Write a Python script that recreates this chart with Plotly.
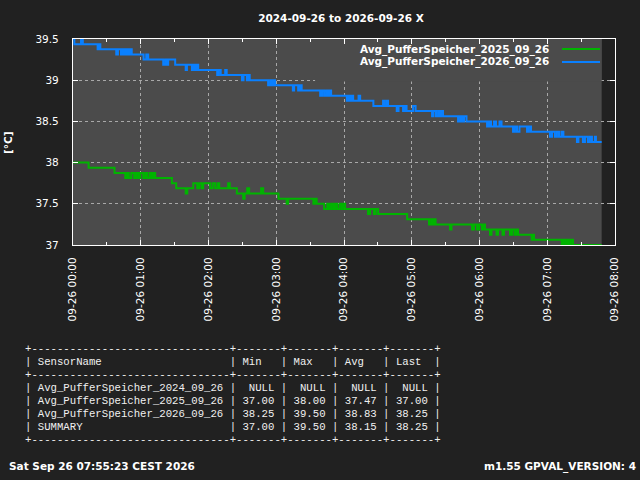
import plotly.graph_objects as go
import pandas as pd

# 数据：分钟（从 00:00 起）和温度
day = "2026-09-26"
title_text = "2024-09-26 to 2026-09-26 X"

min_2026 = [0.0, 1.2, 7.1, 8.7, 21.8, 22.8, 24.2, 38.3, 39.8, 42.5, 44.1, 45.0, 46.3, 47.8,
            49.2, 49.8, 51.2, 52.0, 62.5, 64.9, 66.6, 79.9, 81.7, 83.0, 84.3, 90.5, 99.8,
            100.9, 105.3, 106.9, 108.2, 109.7, 110.9, 127.7, 129.0, 130.8, 134.8, 136.1,
            149.6, 151.0, 154.0, 155.1, 156.5, 172.8, 174.6, 175.9, 177.3, 179.0, 194.7,
            195.8, 199.4, 201.2, 202.5, 218.9, 220.6, 222.4, 224.2, 225.9, 227.3, 228.6,
            242.5, 244.1, 245.4, 246.7, 248.1, 252.9, 254.3, 266.0, 274.6, 275.9, 277.7,
            279.0, 286.7, 288.3, 292.3, 294.0, 295.4, 301.2, 303.4, 318.0, 319.3, 321.5,
            323.3, 324.6, 325.9, 327.7, 341.0, 342.8, 344.5, 346.3, 348.5, 366.7, 368.4,
            370.2, 372.9, 374.6, 377.7, 379.5, 389.7, 391.4, 393.2, 395.4, 402.1, 403.8,
            405.6, 422.4, 424.2, 426.8, 428.6, 430.4, 432.6, 434.3, 446.3, 447.6, 451.6,
            453.4, 456.0, 457.8, 459.6, 462.2, 463.1, 468.2]
temp_2026 = [39.5, 39.4375, 39.5, 39.4375, 39.375, 39.4375, 39.375, 39.3125, 39.375, 39.3125,
             39.375, 39.3125, 39.375, 39.3125, 39.375, 39.3125, 39.375, 39.3125, 39.25,
             39.3125, 39.25, 39.1875, 39.25, 39.1875, 39.25, 39.1875, 39.125, 39.1875, 39.125,
             39.1875, 39.125, 39.1875, 39.125, 39.0625, 39.125, 39.0625, 39.125, 39.0625,
             39.0, 39.0625, 39.0, 39.0625, 39.0, 38.9375, 39.0, 38.9375, 39.0, 38.9375, 38.875,
             38.9375, 38.875, 38.9375, 38.875, 38.8125, 38.875, 38.8125, 38.875, 38.8125,
             38.875, 38.8125, 38.75, 38.8125, 38.75, 38.8125, 38.75, 38.8125, 38.75, 38.6875,
             38.75, 38.6875, 38.75, 38.6875, 38.625, 38.6875, 38.625, 38.6875, 38.625, 38.6875,
             38.625, 38.5625, 38.625, 38.5625, 38.625, 38.5625, 38.625, 38.5625, 38.5, 38.5625,
             38.5, 38.5625, 38.5, 38.4375, 38.5, 38.4375, 38.5, 38.4375, 38.5, 38.4375, 38.375,
             38.4375, 38.375, 38.4375, 38.375, 38.4375, 38.375, 38.3125, 38.375, 38.3125,
             38.375, 38.3125, 38.375, 38.3125, 38.25, 38.3125, 38.25, 38.3125, 38.25, 38.3125,
             38.25, 38.3125, 38.25, 38.25]

min_2025 = [0.0, 13.8, 36.8, 46.3, 48.1, 49.4, 51.6, 54.2, 56.0, 57.8, 59.6, 62.2, 64.0, 65.8,
            68.0, 69.7, 71.1, 72.8, 87.6, 91.4, 99.8, 101.2, 106.5, 110.0, 111.8, 114.0,
            115.3, 121.5, 123.7, 125.9, 128.1, 129.5, 137.4, 138.8, 145.1, 150.7, 152.0,
            154.3, 156.0, 166.6, 168.4, 182.0, 189.2, 190.5, 212.9, 214.4, 215.8, 222.4,
            225.1, 226.8, 228.6, 230.4, 232.1, 233.9, 236.1, 237.9, 239.2, 241.0, 261.3,
            263.1, 266.6, 268.0, 270.2, 295.9, 315.3, 317.1, 318.4, 319.8, 321.1, 333.9,
            335.2, 353.4, 355.1, 357.8, 359.6, 362.2, 363.6, 364.9, 369.3, 370.6, 375.1,
            376.4, 380.4, 381.7, 387.0, 388.8, 391.0, 392.8, 394.1, 406.2, 407.4, 408.3,
            432.8, 434.3, 436.1, 437.9, 439.2, 441.0, 442.8, 468.2]
temp_2025 = [38.0, 37.9375, 37.875, 37.8125, 37.875, 37.8125, 37.875, 37.8125, 37.875, 37.8125,
             37.875, 37.8125, 37.875, 37.8125, 37.875, 37.8125, 37.875, 37.8125, 37.75,
             37.6875, 37.625, 37.6875, 37.75, 37.6875, 37.75, 37.6875, 37.75, 37.6875, 37.75,
             37.6875, 37.75, 37.6875, 37.75, 37.6875, 37.625, 37.5625, 37.625, 37.6875,
             37.625, 37.6875, 37.625, 37.5625, 37.5, 37.5625, 37.5, 37.5625, 37.5, 37.4375,
             37.5, 37.4375, 37.5, 37.4375, 37.5, 37.4375, 37.5, 37.4375, 37.5, 37.4375, 37.375,
             37.4375, 37.375, 37.4375, 37.375, 37.3125, 37.25, 37.3125, 37.25, 37.3125, 37.25,
             37.1875, 37.25, 37.1875, 37.25, 37.1875, 37.25, 37.1875, 37.25, 37.1875, 37.125,
             37.1875, 37.125, 37.1875, 37.125, 37.1875, 37.125, 37.1875, 37.125, 37.1875,
             37.125, 37.0625, 37.125, 37.0625, 37.0, 37.0625, 37.0, 37.0625, 37.0, 37.0625,
             37.0, 37.0]

legend_names = ["Avg_PufferSpeicher_2025_09_26", "Avg_PufferSpeicher_2026_09_26"]
line_colors = ["#00b400", "#0a80ff"]

# 表格
sensor_names = ["Avg_PufferSpeicher_2024_09_26", "Avg_PufferSpeicher_2025_09_26",
                "Avg_PufferSpeicher_2026_09_26", "SUMMARY"]
col_min = ["NULL", "37.00", "38.25", "37.00"]
col_max = ["NULL", "38.00", "39.50", "39.50"]
col_avg = ["NULL", "37.47", "38.83", "38.15"]
col_last = ["NULL", "37.00", "38.25", "38.25"]
footer_left = "Sat Sep 26 07:55:23 CEST 2026"
footer_right = "m1.55 GPVAL_VERSION: 4"

BG = "#212121"
PLOT_BG = "#4b4b4b"
FONT = "DejaVu Sans"

# 绘图区域（像素）
L, R, T, B = 73, 615, 39, 245
W_PX, H_PX = R - L, B - T


def px_x(x):
    return (x - L) / W_PX


def px_y(y):
    return (B - y) / H_PX


def to_time(minutes):
    return pd.Timestamp(day) + pd.to_timedelta(minutes, unit="min")


fig = go.Figure()
for name, color, mins, temps in [(legend_names[0], line_colors[0], min_2025, temp_2025),
                                 (legend_names[1], line_colors[1], min_2026, temp_2026)]:
    fig.add_trace(go.Scatter(x=to_time(mins), y=temps, mode="lines", name=name,
                             line=dict(color=color, width=2, shape="hv"),
                             showlegend=False))

t_end = to_time([min_2026[-1]])[0]
t_start = pd.Timestamp(day)

shapes = [
    # 数据范围灰底
    dict(type="rect", xref="x", yref="paper", x0=t_start, x1=t_end, y0=0, y1=1,
         fillcolor=PLOT_BG, line_width=0, layer="below"),
    # 图例背景（遮住网格）
    dict(type="rect", xref="x", yref="y", x0=to_time([214.4])[0], x1=t_end, y0=38.985, y1=39.5,
         fillcolor=PLOT_BG, line_width=0, layer="between"),
]
annotations = []
for i, (name, color) in enumerate(zip(legend_names, line_colors)):
    yy = [49, 62][i]
    shapes.append(dict(type="line", xref="paper", yref="paper", x0=px_x(562), x1=px_x(600),
                       y0=px_y(yy), y1=px_y(yy), line=dict(color=color, width=2)))
    annotations.append(dict(xref="paper", yref="paper", x=px_x(551), y=px_y(yy),
                            xanchor="right", yanchor="middle", showarrow=False,
                            text="<b>" + name + "</b>",
                            font=dict(family=FONT, size=10.5, color="white")))

annotations.append(dict(xref="paper", yref="paper", x=px_x(8), y=px_y(143), textangle=-90,
                        xanchor="center", yanchor="middle", showarrow=False, text="<b>[°C]</b>",
                        font=dict(family=FONT, size=10.5, color="white")))

# 文本表格
border = "+" + "-" * 31 + "+" + ("-" * 7 + "+") * 4
header = "| " + "SensorName".ljust(29) + " | " + " | ".join(h.ljust(5) for h in ["Min", "Max", "Avg", "Last"]) + " |"
rows = [border, header, border]
for n, a, b, c, d in zip(sensor_names, col_min, col_max, col_avg, col_last):
    rows.append("| " + n.ljust(29) + " | " + " | ".join(v.rjust(5) for v in [a, b, c, d]) + " |")
rows.append(border)
for i, line in enumerate(rows):
    annotations.append(dict(xref="paper", yref="paper", x=px_x(22.5), y=px_y(349.3 + 13.0 * i),
                            xanchor="left", yanchor="middle", showarrow=False,
                            text=line.replace(" ", "\u00a0"),
                            font=dict(family="Liberation Mono", size=10.67, color="#f0f0f0")))

annotations.append(dict(xref="paper", yref="paper", x=px_x(7), y=px_y(466), xanchor="left",
                        yanchor="middle", showarrow=False, text="<b>" + footer_left + "</b>",
                        font=dict(family=FONT, size=10.5, color="white")))
annotations.append(dict(xref="paper", yref="paper", x=px_x(638), y=px_y(466), xanchor="right",
                        yanchor="middle", showarrow=False, text="<b>" + footer_right + "</b>",
                        font=dict(family=FONT, size=10.5, color="white")))

axis_common = dict(showline=True, linecolor="white", linewidth=1.2, mirror="ticks",
                   ticks="inside", ticklen=5, tickcolor="white", tickwidth=1,
                   showgrid=True, gridcolor="#a8a8a8", griddash="dot", gridwidth=1,
                   zeroline=False, tickfont=dict(family=FONT, size=10.5, color="white"))

fig.update_layout(
    width=640, height=480,
    margin=dict(l=L, r=640 - R, t=T, b=480 - B),
    paper_bgcolor=BG, plot_bgcolor=BG,
    title=dict(text="<b>" + title_text + "</b>", xref="container", yref="container",
               x=341 / 640, y=1 - 18 / 480, xanchor="center", yanchor="middle",
               font=dict(family=FONT, size=10.5, color="white")),
    xaxis=dict(axis_common, type="date", range=[t_start, pd.Timestamp(day + " 08:00")],
               dtick=3600000, tickformat="%m-%d %H:%M", tickangle=-90, ticklabelstandoff=7,
               minor=dict(dtick=1800000, ticks="inside", ticklen=3, tickcolor="white", showgrid=False)),
    yaxis=dict(axis_common, range=[37, 39.5], dtick=0.5, ticklabelstandoff=11),
    shapes=shapes,
    annotations=annotations,
    showlegend=False,
)

# 去掉页面默认边距，隐藏工具栏
fig.write_html("out.html", config={"displayModeBar": False},
               post_script="document.body.style.margin='0';document.body.style.background='#212121';")
